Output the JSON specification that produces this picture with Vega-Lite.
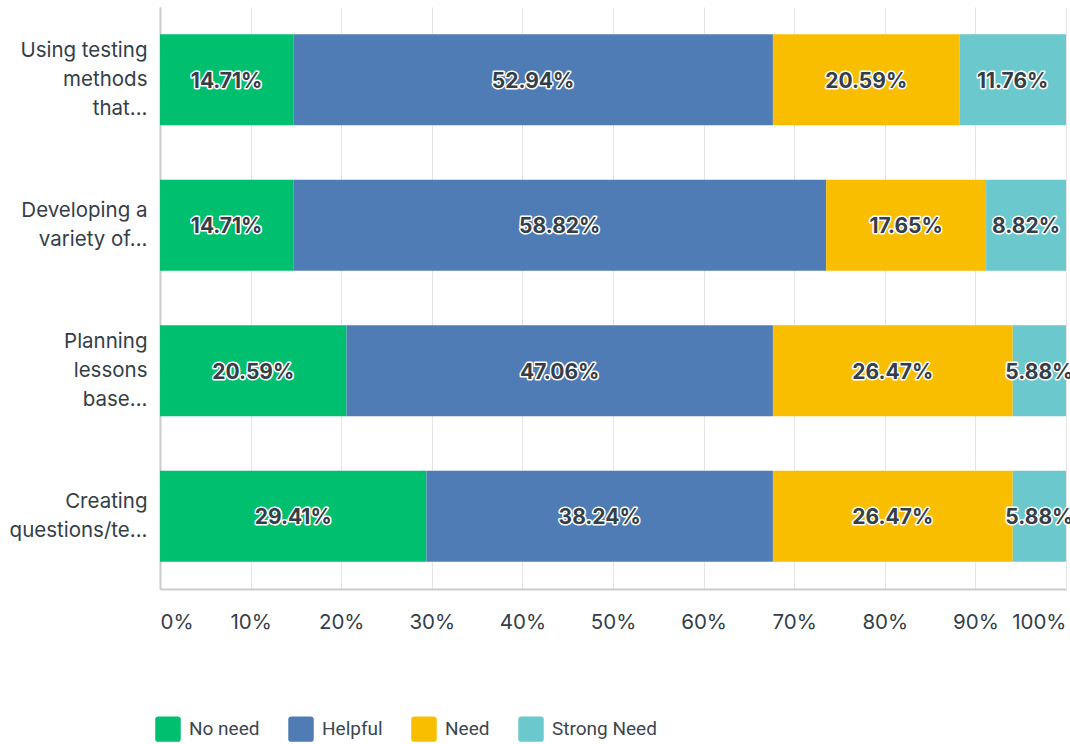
{
  "$schema": "https://vega.github.io/schema/vega-lite/v6.json",
  "width": 906,
  "height": 582,
  "autosize": {"type": "none"},
  "padding": {"left": 160, "top": 7, "right": 4, "bottom": 155},
  "config": {"view": {"stroke": null}, "font": "Inter"},
  "data": {
    "values": [
      {"question": "Using testing|methods|that...", "response": "No need", "order": 1, "value": 0.1471},
      {"question": "Using testing|methods|that...", "response": "Helpful", "order": 2, "value": 0.5294},
      {"question": "Using testing|methods|that...", "response": "Need", "order": 3, "value": 0.2059},
      {"question": "Using testing|methods|that...", "response": "Strong Need", "order": 4, "value": 0.1176},
      {"question": "Developing a|variety of...", "response": "No need", "order": 1, "value": 0.1471},
      {"question": "Developing a|variety of...", "response": "Helpful", "order": 2, "value": 0.5882},
      {"question": "Developing a|variety of...", "response": "Need", "order": 3, "value": 0.1765},
      {"question": "Developing a|variety of...", "response": "Strong Need", "order": 4, "value": 0.0882},
      {"question": "Planning|lessons|base...", "response": "No need", "order": 1, "value": 0.2059},
      {"question": "Planning|lessons|base...", "response": "Helpful", "order": 2, "value": 0.4706},
      {"question": "Planning|lessons|base...", "response": "Need", "order": 3, "value": 0.2647},
      {"question": "Planning|lessons|base...", "response": "Strong Need", "order": 4, "value": 0.0588},
      {"question": "Creating|questions/te...", "response": "No need", "order": 1, "value": 0.2941},
      {"question": "Creating|questions/te...", "response": "Helpful", "order": 2, "value": 0.3824},
      {"question": "Creating|questions/te...", "response": "Need", "order": 3, "value": 0.2647},
      {"question": "Creating|questions/te...", "response": "Strong Need", "order": 4, "value": 0.0588}
    ]
  },
  "transform": [
    {"stack": "value", "groupby": ["question"], "sort": [{"field": "order"}], "as": ["x0", "x1"]},
    {"calculate": "(datum.x0 + datum.x1) / 2", "as": "xm"}
  ],
  "encoding": {
    "y": {
      "field": "question",
      "type": "nominal",
      "sort": null,
      "title": null,
      "scale": {"paddingInner": 0.375, "paddingOuter": 0.1875},
      "axis": {
        "labelExpr": "split(datum.label, '|')",
        "labelFontSize": 20.5,
        "labelLineHeight": 29,
        "labelColor": "#333e48",
        "labelPadding": 13,
        "labelLimit": 0,
        "labelOffset": {"condition": {"test": "length(split(datum.value, '|')) == 3", "value": -28.5}, "value": -14},
        "ticks": false,
        "domainColor": "#cccccc",
        "domainWidth": 2
      }
    }
  },
  "layer": [
    {
      "mark": {"type": "bar"},
      "encoding": {
        "x": {
          "field": "x0",
          "type": "quantitative",
          "scale": {"domain": [0, 1], "nice": false},
          "title": null,
          "axis": {
            "values": [0, 0.1, 0.2, 0.3, 0.4, 0.5, 0.6, 0.7, 0.8, 0.9, 1],
            "format": ".0%",
            "grid": true,
            "gridColor": "#e5e5e5",
            "gridWidth": 1,
            "ticks": false,
            "domainColor": "#cccccc",
            "domainWidth": 2,
            "labelFontSize": 20.5,
            "labelColor": "#333e48",
            "labelPadding": 23,
            "labelFlush": true
          }
        },
        "x2": {"field": "x1"},
        "color": {
          "field": "response",
          "type": "nominal",
          "scale": {
            "domain": ["No need", "Helpful", "Need", "Strong Need"],
            "range": ["#00bf6f", "#507cb6", "#f9be00", "#6bc8cd"]
          },
          "legend": {
            "title": null,
            "orient": "none",
            "direction": "horizontal",
            "legendX": -5,
            "legendY": 709,
            "symbolType": "M-1,-0.75Q-1,-1,-0.75,-1L0.75,-1Q1,-1,1,-0.75L1,0.75Q1,1,0.75,1L-0.75,1Q-1,1,-1,0.75Z",
            "symbolSize": 650,
            "symbolStrokeWidth": 0,
            "symbolOpacity": 1,
            "labelFont": "Roboto",
            "labelFontSize": 19,
            "labelColor": "#3b4650",
            "labelOffset": 8,
            "columnPadding": 28,
            "labelLimit": 0
          }
        },
        "order": {"field": "order"}
      }
    },
    {
      "mark": {"type": "text", "fontSize": 21, "fontWeight": "bold", "dy": 2, "stroke": "white", "strokeWidth": 3, "strokeJoin": "round", "fill": "white"},
      "encoding": {
        "x": {"field": "xm", "type": "quantitative"},
        "text": {"field": "value", "type": "quantitative", "format": ".2%"}
      }
    },
    {
      "mark": {"type": "text", "fontSize": 21, "fontWeight": "bold", "dy": 2, "fill": "#333e48"},
      "encoding": {
        "x": {"field": "xm", "type": "quantitative"},
        "text": {"field": "value", "type": "quantitative", "format": ".2%"}
      }
    }
  ]
}
